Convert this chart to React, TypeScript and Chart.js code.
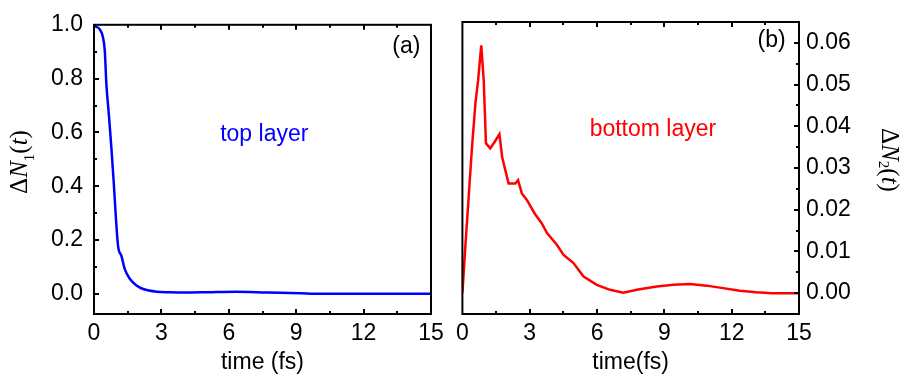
import React, { useEffect, useRef } from "react";
import { Chart, registerables } from "chart.js";

Chart.register(...registerables);

// ---------- data ----------
const timeTop = [0, 0.03, 0.25, 0.4, 0.48, 0.55, 0.67, 0.78, 0.88, 0.97, 1.07, 1.22, 1.37, 1.6, 1.89, 2.19, 2.79, 3.38, 4.0, 5.0, 6.3, 7.7, 9.2, 10, 12, 15];
const deltaN1 = [1.0, 0.996, 0.984, 0.953, 0.904, 0.781, 0.658, 0.535, 0.412, 0.289, 0.178, 0.141, 0.092, 0.055, 0.031, 0.018, 0.008, 0.006, 0.005, 0.006, 0.008, 0.005, 0.002, 0.0, 0.0, 0.0];

const timeBottom = [0, 0.13, 0.28, 0.43, 0.58, 0.7, 0.84, 0.95, 1.05, 1.24, 1.44, 1.65, 1.77, 1.91, 2.06, 2.36, 2.48, 2.65, 2.88, 3.22, 3.54, 3.77, 4.21, 4.5, 4.95, 5.4, 5.99, 6.58, 7.17, 7.77, 8.66, 9.4, 10.14, 10.88, 11.62, 12.36, 13.1, 13.8, 15];
const deltaN2 = [0, 0.0111, 0.0231, 0.0351, 0.0455, 0.051, 0.0594, 0.051, 0.0359, 0.0347, 0.0363, 0.0381, 0.0327, 0.0295, 0.0263, 0.0263, 0.0271, 0.0239, 0.0223, 0.0191, 0.0167, 0.0144, 0.0116, 0.0092, 0.0072, 0.004, 0.002, 0.0008, 0.0001, 0.0008, 0.0016, 0.002, 0.0022, 0.0018, 0.0012, 0.0006, 0.0002, 0, 0];

// tick values
const xMajorTicks = [0, 3, 6, 9, 12, 15];
const xMinorTicks = [1.5, 4.5, 7.5, 10.5, 13.5];
const y1MajorTicks = [0, 0.2, 0.4, 0.6, 0.8, 1.0];
const y1MinorTicks = [0.1, 0.3, 0.5, 0.7, 0.9];
const y2MajorTicks = [0, 0.01, 0.02, 0.03, 0.04, 0.05, 0.06];
const y2MinorTicks = [0.005, 0.015, 0.025, 0.035, 0.045, 0.055];

// labels
const xTitleLeft = "time (fs)";
const xTitleRight = "time(fs)";
const panelLabelA = "(a)";
const panelLabelB = "(b)";
const seriesLabelTop = "top layer";
const seriesLabelBottom = "bottom layer";

// ---------- style ----------
const SANS = "'Liberation Sans', Arial, Helvetica, sans-serif";
const SERIF = "'Liberation Serif', 'Times New Roman', serif";
const FS = 23;
const BLUE = "#0000ff";
const RED = "#ff0000";

type Seg = { text: string; italic?: boolean; sub?: boolean };

function drawRich(ctx: CanvasRenderingContext2D, segs: Seg[], cx: number, cy: number, angle: number, size: number, subSize: number, subOffset: number) {
  ctx.save();
  ctx.translate(cx, cy);
  ctx.rotate(angle);
  ctx.textBaseline = "alphabetic";
  ctx.textAlign = "left";
  ctx.fillStyle = "#000";
  const fontOf = (s: Seg) => `${s.italic ? "italic " : ""}${s.sub ? subSize : size}px ${SERIF}`;
  let total = 0;
  for (const s of segs) {
    ctx.font = fontOf(s);
    total += ctx.measureText(s.text).width;
  }
  let x = -total / 2;
  for (const s of segs) {
    ctx.font = fontOf(s);
    ctx.fillText(s.text, x, s.sub ? subOffset : 0);
    x += ctx.measureText(s.text).width;
  }
  ctx.restore();
}

type PanelOpts = {
  side: "left" | "right";
  yMajor: number[];
  yMinor: number[];
  panelLabel: string;
  panelPos: [number, number];
  seriesLabel: string;
  seriesPos: [number, number];
  seriesColor: string;
  yTitle: Seg[];
  yTitlePos: [number, number];
  yTitleAngle: number;
  subOffset: number;
};

function decorPlugin(o: PanelOpts) {
  return {
    id: "panelDecor",
    afterDraw(chart: any) {
      const { ctx, chartArea: a, scales } = chart;
      const xs = scales.x;
      const ys = scales.y;
      const MAJ = 5;
      const MIN = 3;
      ctx.save();
      ctx.strokeStyle = "#000";
      ctx.lineWidth = 2;
      const seg = (x1: number, y1: number, x2: number, y2: number) => {
        ctx.beginPath();
        ctx.moveTo(x1, y1);
        ctx.lineTo(x2, y2);
        ctx.stroke();
      };
      const xt = (vals: number[], len: number) => {
        for (const v of vals) {
          const px = Math.round(xs.getPixelForValue(v));
          if (px <= a.left + 1 || px >= a.right - 1) continue;
          seg(px, a.bottom, px, a.bottom - len);
          seg(px, a.top, px, a.top + len);
        }
      };
      xt(xMajorTicks, MAJ);
      xt(xMinorTicks, MIN);
      const yt = (vals: number[], len: number) => {
        for (const v of vals) {
          const py = Math.round(ys.getPixelForValue(v));
          if (py <= a.top + 1 || py >= a.bottom - 1) continue;
          if (o.side === "left") seg(a.left, py, a.left + len, py);
          else seg(a.right, py, a.right - len, py);
        }
      };
      yt(o.yMajor, MAJ);
      yt(o.yMinor, MIN);
      ctx.strokeRect(a.left, a.top, a.right - a.left, a.bottom - a.top);

      // annotations
      ctx.textAlign = "center";
      ctx.textBaseline = "middle";
      ctx.font = `${FS}px ${SANS}`;
      ctx.fillStyle = "#000";
      ctx.fillText(o.panelLabel, xs.getPixelForValue(o.panelPos[0]), ys.getPixelForValue(o.panelPos[1]));
      ctx.fillStyle = o.seriesColor;
      ctx.fillText(o.seriesLabel, xs.getPixelForValue(o.seriesPos[0]), ys.getPixelForValue(o.seriesPos[1]));
      ctx.restore();

      drawRich(ctx, o.yTitle, o.yTitlePos[0], o.yTitlePos[1], o.yTitleAngle, 25, 15, o.subOffset);
    },
  };
}

function makeConfig(opts: {
  times: number[];
  values: number[];
  color: string;
  smooth: boolean;
  yMin: number;
  yMax: number;
  yTicks: number[];
  yDecimals: number;
  yPos: "left" | "right";
  yWidth: number;
  yPad: number;
  padding: { left: number; right: number; top: number; bottom: number };
  xTitle: string;
  plugin: any;
}) {
  return {
    type: "line" as const,
    data: {
      datasets: [
        {
          data: opts.times.map((t, i) => ({ x: t, y: opts.values[i] })),
          borderColor: opts.color,
          borderWidth: 2.5,
          pointRadius: 0,
          fill: false,
          tension: opts.smooth ? 0.4 : 0,
          cubicInterpolationMode: opts.smooth ? ("monotone" as const) : ("default" as const),
        },
      ],
    },
    options: {
      animation: false as const,
      responsive: false,
      maintainAspectRatio: false,
      layout: { padding: opts.padding },
      plugins: { legend: { display: false }, tooltip: { enabled: false } },
      scales: {
        x: {
          type: "linear" as const,
          min: 0,
          max: 15,
          grid: { display: false, drawTicks: false },
          border: { display: false },
          ticks: {
            padding: 6,
            color: "#000",
            font: { family: SANS, size: FS },
            maxRotation: 0,
            autoSkip: false,
            callback: (v: any) => String(v),
          },
          afterBuildTicks: (s: any) => {
            s.ticks = xMajorTicks.map((v) => ({ value: v }));
          },
          title: {
            display: true,
            text: opts.xTitle,
            color: "#000",
            font: { family: SANS, size: FS, lineHeight: 1 },
            padding: { top: 0, bottom: 0 },
          },
          afterFit: (s: any) => {
            s.height = 60;
          },
        },
        y: {
          type: "linear" as const,
          position: opts.yPos,
          min: opts.yMin,
          max: opts.yMax,
          grid: { display: false, drawTicks: false },
          border: { display: false },
          ticks: {
            padding: opts.yPad,
            color: "#000",
            autoSkip: false,
            font: { family: SANS, size: FS },
            callback: (v: any) => Number(v).toFixed(opts.yDecimals),
          },
          afterBuildTicks: (s: any) => {
            s.ticks = opts.yTicks.map((v) => ({ value: v }));
          },
          afterFit: (s: any) => {
            s.width = opts.yWidth;
          },
        },
      },
    },
    plugins: [opts.plugin],
  };
}

export default function App() {
  const leftRef = useRef<HTMLCanvasElement>(null);
  const rightRef = useRef<HTMLCanvasElement>(null);

  useEffect(() => {
    const leftCfg = makeConfig({
      times: timeTop,
      values: deltaN1,
      color: BLUE,
      smooth: true,
      yMin: -0.075,
      yMax: 1.0,
      yTicks: y1MajorTicks,
      yDecimals: 1,
      yPos: "left",
      yWidth: 94,
      yPad: 11,
      padding: { left: 0, right: 19, top: 22, bottom: 0 },
      xTitle: xTitleLeft,
      plugin: decorPlugin({
        side: "left",
        yMajor: y1MajorTicks,
        yMinor: y1MinorTicks,
        panelLabel: panelLabelA,
        panelPos: [13.9, 0.92],
        seriesLabel: seriesLabelTop,
        seriesPos: [7.58, 0.59],
        seriesColor: BLUE,
        yTitle: [
          { text: "Δ" },
          { text: "N", italic: true },
          { text: "1", sub: true },
          { text: "(" },
          { text: "t", italic: true },
          { text: ")" },
        ],
        yTitlePos: [27, 162],
        yTitleAngle: -Math.PI / 2,
        subOffset: 7,
      }),
    });
    const rightCfg = makeConfig({
      times: timeBottom,
      values: deltaN2,
      color: RED,
      smooth: false,
      yMin: -0.005,
      yMax: 0.065,
      yTicks: y2MajorTicks,
      yDecimals: 2,
      yPos: "right",
      yWidth: 105,
      yPad: 7,
      padding: { left: 12, right: 0, top: 22, bottom: 0 },
      xTitle: xTitleRight,
      plugin: decorPlugin({
        side: "right",
        yMajor: y2MajorTicks,
        yMinor: y2MinorTicks,
        panelLabel: panelLabelB,
        panelPos: [13.78, 0.0606],
        seriesLabel: seriesLabelBottom,
        seriesPos: [8.49, 0.0391],
        seriesColor: RED,
        yTitle: [
          { text: "Δ" },
          { text: "N", italic: true },
          { text: "2", sub: true },
          { text: "(" },
          { text: "t", italic: true },
          { text: ")" },
        ],
        yTitlePos: [432, 160],
        yTitleAngle: Math.PI / 2,
        subOffset: 3,
      }),
    });
    const c1 = new Chart(leftRef.current as HTMLCanvasElement, leftCfg as any);
    const c2 = new Chart(rightRef.current as HTMLCanvasElement, rightCfg as any);
    return () => {
      c1.destroy();
      c2.destroy();
    };
  }, []);

  return (
    <div style={{ position: "fixed", left: 0, top: 0, width: 904, height: 374, background: "#fff", overflow: "hidden" }}>
      <canvas ref={leftRef} width={450} height={374} style={{ position: "absolute", left: 0, top: 0, width: 450, height: 374 }} />
      <canvas ref={rightRef} width={454} height={374} style={{ position: "absolute", left: 450, top: 0, width: 454, height: 374 }} />
    </div>
  );
}
